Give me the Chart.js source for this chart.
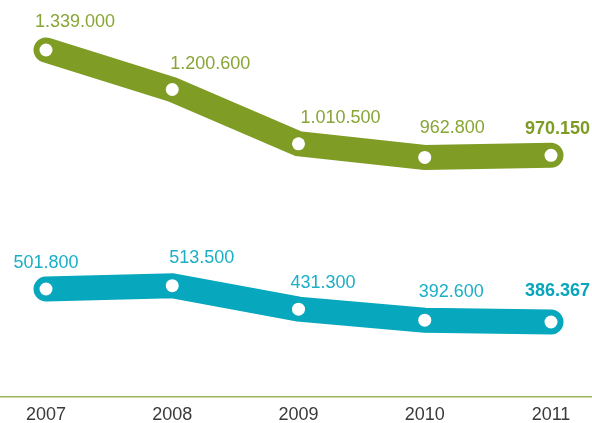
<!DOCTYPE html>
<html>
<head>
<meta charset="utf-8">
<script src="https://cdn.jsdelivr.net/npm/chart.js@4.4.1/dist/chart.umd.min.js"></script>
<style>
  html, body { margin: 0; padding: 0; background: #ffffff; }
  #wrap { width: 592px; height: 423px; }
</style>
</head>
<body>
<div id="wrap"><canvas id="c" width="592" height="423"></canvas></div>
<script>
const categories = [2007, 2008, 2009, 2010, 2011];
const seriesGreen = [1339000, 1200600, 1010500, 962800, 970150];
const seriesTeal = [501800, 513500, 431300, 392600, 386367];

function fmt(v) {
  return String(v).replace(/\B(?=(\d{3})+(?!\d))/g, '.');
}

// label placement style: [dx, dy, align] relative to the point
const labelPlacement = [
  [[-11, -28, 'left'], [-2, -25, 'left'], [2, -26, 'left'], [-5, -29, 'left'], [39, -26, 'right']],
  [[0, -26, 'center'], [-3, -28, 'left'], [-8, -26, 'left'], [-6, -28, 'left'], [39, -31, 'right']]
];
const labelColors = ['#88a536', '#1aafc6'];
const lastColors = ['#7e9b25', '#09a5bb'];

const valueLabels = {
  id: 'valueLabels',
  afterDatasetsDraw(chart) {
    const ctx = chart.ctx;
    chart.data.datasets.forEach((ds, di) => {
      const meta = chart.getDatasetMeta(di);
      meta.data.forEach((pt, i) => {
        const [dx, dy, align] = labelPlacement[di][i];
        const last = i === meta.data.length - 1;
        ctx.save();
        ctx.font = (last ? 'bold ' : '') + '18px "Liberation Sans", Arial, sans-serif';
        ctx.fillStyle = last ? lastColors[di] : labelColors[di];
        ctx.textAlign = align;
        ctx.textBaseline = 'middle';
        ctx.fillText(fmt(ds.data[i].y), pt.x + dx, pt.y + dy);
        ctx.restore();
      });
    });
  }
};

new Chart(document.getElementById('c'), {
  type: 'line',
  data: {
    datasets: [
      {
        data: categories.map((c, i) => ({ x: c, y: seriesGreen[i] })),
        borderColor: '#7f9c25',
        borderWidth: 25,
        borderCapStyle: 'round',
        borderJoinStyle: 'miter',
        tension: 0,
        pointRadius: 6.5,
        pointBorderWidth: 0,
        pointBackgroundColor: '#ffffff',
        pointHoverRadius: 6.5,
        clip: false
      },
      {
        data: categories.map((c, i) => ({ x: c, y: seriesTeal[i] })),
        borderColor: '#07a7bd',
        borderWidth: 25,
        borderCapStyle: 'round',
        borderJoinStyle: 'miter',
        tension: 0,
        pointRadius: 6.5,
        pointBorderWidth: 0,
        pointBackgroundColor: '#ffffff',
        pointHoverRadius: 6.5,
        clip: false
      }
    ]
  },
  options: {
    responsive: false,
    animation: false,
    layout: { padding: 0, autoPadding: false },
    plugins: { legend: { display: false }, tooltip: { enabled: false } },
    scales: {
      x: {
        type: 'linear',
        min: 2006.6356,
        max: 2011.3248,
        afterBuildTicks(scale) { scale.ticks = categories.map(v => ({ value: v })); },
        afterFit(scale) { scale.height = 26; },
        grid: { display: false, drawTicks: false, tickLength: 0 },
        border: { display: true, color: '#9db55a', width: 1.5 },
        ticks: {
          callback: v => String(v),
          color: '#3a3a3a',
          font: { family: '"Liberation Sans", Arial, sans-serif', size: 18, lineHeight: 1.2 },
          padding: 7,
          maxRotation: 0,
          autoSkip: false
        }
      },
      y: {
        display: false,
        min: 123590,
        max: 1514130
      }
    }
  },
  plugins: [valueLabels]
});
</script>
</body>
</html>
